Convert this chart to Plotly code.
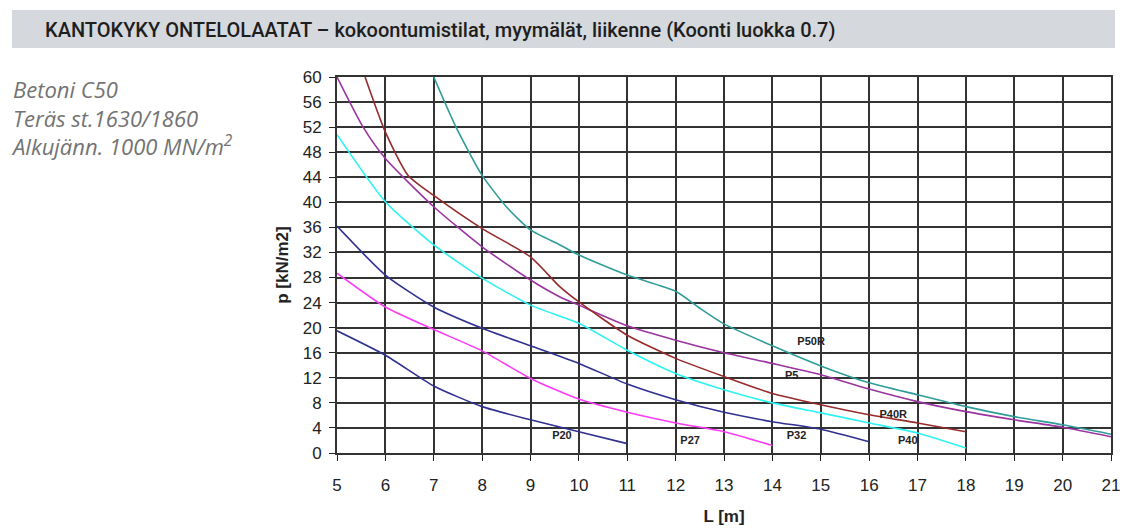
import plotly.graph_objects as go

# Load capacity curves: span L [m] vs. allowed load p [kN/m2]
p50r_L = [7.0, 7.46, 8.0, 8.5, 9.0, 9.61, 10, 11, 12, 12.5, 13, 14, 15, 16, 17, 18, 19, 20, 21]
p50r_p = [60, 52, 44.3, 39.3, 35.6, 33.2, 31.6, 28.4, 25.8, 23.1, 20.6, 17.1, 13.9, 11.2, 9.3, 7.4, 5.8, 4.5, 3.0]

p5_L = [5.0, 5.54, 6, 7, 8, 9, 9.61, 10, 11, 12, 13, 14, 15, 16, 17, 18, 19, 20, 21]
p5_p = [60, 52, 47, 39.3, 32.9, 27.6, 24.9, 23.6, 20.3, 18.0, 16.0, 14.3, 12.5, 10.2, 8.2, 6.6, 5.3, 4.1, 2.6]

p40r_L = [5.58, 6, 6.47, 7, 8, 9, 9.61, 10, 11, 12, 13, 14, 15, 16, 17, 18]
p40r_p = [60, 51.2, 44.3, 41.1, 35.8, 31.3, 26.5, 24.1, 18.8, 15.1, 12.2, 9.5, 7.7, 6.1, 4.8, 3.4]

p40_L = [5, 6, 7, 8, 9, 10, 11, 12, 13, 14, 15, 16, 17, 18]
p40_p = [50.8, 40.1, 33.2, 27.9, 23.6, 20.7, 16.4, 12.7, 10.1, 8.0, 6.4, 4.8, 3.2, 0.8]

p32_L = [5, 6, 7, 8, 9, 10, 11, 12, 13, 14, 15, 16]
p32_p = [36.2, 28.4, 23.3, 19.9, 17.1, 14.3, 11.0, 8.5, 6.5, 5.0, 3.8, 1.8]

p27_L = [5, 6, 7, 8, 9, 10, 11, 12, 13, 14]
p27_p = [28.7, 23.3, 19.7, 16.3, 11.9, 8.6, 6.5, 4.8, 3.4, 1.2]

p20_L = [5, 6, 7, 8, 9, 10, 11]
p20_p = [19.5, 15.6, 10.7, 7.4, 5.3, 3.4, 1.5]

# Curve name labels and where they sit in data coordinates
label_text = ["P50R", "P5", "P40R", "P40", "P32", "P27", "P20"]
label_L = [14.8, 14.4, 16.5, 16.8, 14.5, 12.3, 9.65]
label_p = [17.7, 12.3, 6.1, 1.8, 2.6, 1.8, 2.6]

x_ticks = list(range(5, 22))
y_ticks = list(range(0, 61, 4))

series = [
    ("P50R", p50r_L, p50r_p, "#2f9c98"),
    ("P5", p5_L, p5_p, "#9a349f"),
    ("P40R", p40r_L, p40r_p, "#962b2b"),
    ("P40", p40_L, p40_p, "#2ef2f2"),
    ("P32", p32_L, p32_p, "#30308f"),
    ("P27", p27_L, p27_p, "#fb3cf6"),
    ("P20", p20_L, p20_p, "#30308f"),
]

fig = go.Figure()
for name, xs, ys, col in series:
    fig.add_trace(go.Scatter(
        x=xs, y=ys, mode="lines", name=name,
        line=dict(color=col, width=1.6, shape="spline", smoothing=0.6),
        hoverinfo="x+y+name",
    ))

fig.add_trace(go.Scatter(
    x=label_L, y=label_p, mode="text", text=label_text,
    textfont=dict(family="Liberation Sans, Arial", size=11, color="#222222", weight=600),
    textposition="middle center", hoverinfo="skip", showlegend=False,
))

L, R, T, B = 337, 15, 77, 76
W, H = 1126, 529
pw, ph = W - L - R, H - T - B

def px(xpix):
    return (xpix - L) / pw

def py(ypix):
    return (H - B - ypix) / ph

axis_font = dict(family="Liberation Sans, Arial", size=17, color="#222222")

fig.update_layout(
    width=W, height=H,
    margin=dict(l=L, r=R, t=T, b=B, autoexpand=False),
    paper_bgcolor="white", plot_bgcolor="white",
    showlegend=False,
    xaxis=dict(
        range=[5, 21], tickvals=x_ticks, ticks="outside", ticklen=6,
        tickcolor="#222222", tickwidth=1.3, ticklabelstandoff=10,
        showgrid=True, gridcolor="#333333", gridwidth=1.8,
        showline=True, linecolor="#333333", linewidth=1.8, mirror=True,
        zeroline=False, tickfont=axis_font, automargin=False,
        title=dict(text="<b>L [m]</b>", font=dict(family="Liberation Sans, Arial", size=17, color="#222222"), standoff=16),
    ),
    yaxis=dict(
        range=[0, 60], tickvals=y_ticks, ticks="outside", ticklen=6,
        tickcolor="#222222", tickwidth=1.3, ticklabelstandoff=4,
        showgrid=True, gridcolor="#333333", gridwidth=1.8,
        showline=True, linecolor="#333333", linewidth=1.8, mirror=True,
        zeroline=False, tickfont=axis_font, automargin=False,
        title=dict(text="<b>p [kN/m2]</b>", font=dict(family="Liberation Sans, Arial", size=17, color="#222222"), standoff=10),
    ),
    shapes=[dict(
        type="rect", xref="paper", yref="paper",
        x0=px(12), x1=px(1115), y0=py(48), y1=py(10),
        fillcolor="#d5d8dc", line=dict(width=0), layer="below",
    )],
)

fig.add_annotation(
    xref="paper", yref="paper", x=px(44), y=py(30), xanchor="left", yanchor="middle",
    text="KANTOKYKY ONTELOLAATAT – kokoontumistilat, myymälät, liikenne (Koonti luokka 0.7)",
    showarrow=False, borderpad=0,
    font=dict(family="Roboto", size=20, color="#1e1e1e", weight=500),
)

# Material notes beside the chart, one text block
side_lines = ["Betoni C50", "Teräs st.1630/1860", "Alkujänn. 1000 MN/m<sup>2</sup>"]
fig.add_annotation(
    xref="paper", yref="paper", x=px(10), y=py(73), xanchor="left", yanchor="top",
    text="<br>".join("<i>" + t + "</i>" for t in side_lines),
    showarrow=False, borderpad=0, align="left",
    font=dict(family="Open Sans, Roboto", size=22, color="#737373"),
)

fig.write_html("out.html")
